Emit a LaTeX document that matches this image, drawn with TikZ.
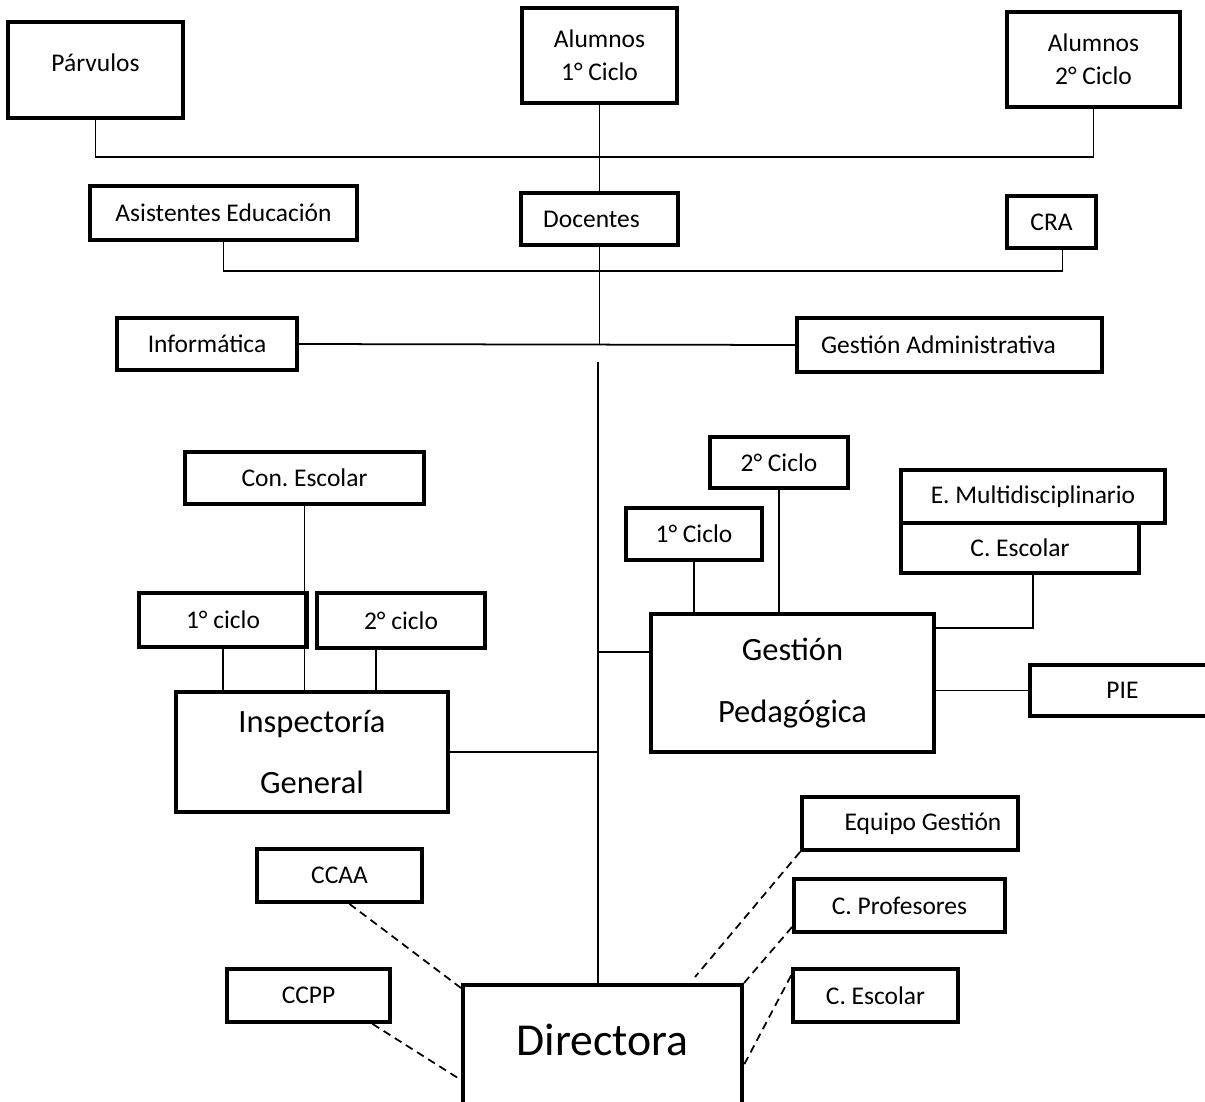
\documentclass[tikz,border=0pt]{standalone}
\usepackage{fontspec}
\setmainfont{Carlito}
\usetikzlibrary{calc}
\frenchspacing

\begin{document}
\begin{tikzpicture}[x=0.02cm, y=-0.02cm,
  caja/.style={draw, line width=2.2pt, inner sep=0pt, align=center, font=\fontsize{14.5}{19}\selectfont},
  grande/.style={caja, font=\fontsize{18.5}{35}\selectfont},
  enorme/.style={caja, font=\fontsize{26}{30}\selectfont},
  linea/.style={line width=1pt},
  guion/.style={line width=1pt, dash pattern=on 4.5pt off 3pt}]
\useasboundingbox (0,0) rectangle (1205,1102);

% fila de arriba
\node[caja, minimum width=3.5cm, minimum height=1.92cm] (parv) at (95.5,70) {\raisebox{0.28cm}{Párvulos}};
\node[caja, minimum width=3.1cm, minimum height=1.9cm] (alu1) at (599.5,55.5) {Alumnos\\1° Ciclo};
\node[caja, minimum width=3.46cm, minimum height=1.9cm] (alu2) at (1093.5,59.5) {Alumnos\\2° Ciclo};
\node[caja, minimum width=5.34cm, minimum height=1.08cm] (asis) at (223.5,213) {Asistentes Educación};
\node[caja, minimum width=3.14cm, minimum height=1.04cm] (doc) at (599.5,219) {\hspace*{-0.32cm}Docentes};
\node[caja, minimum width=1.78cm, minimum height=1.04cm] (cra) at (1051.5,222) {CRA};
\node[caja, minimum width=3.6cm, minimum height=1.04cm] (info) at (207,344) {Informática};
\node[caja, minimum width=6.1cm, minimum height=1.08cm] (gadm) at (949.5,345) {\hspace*{-0.44cm}Gestión Administrativa};

% inspectoria
\node[caja, minimum width=4.78cm, minimum height=1.04cm] (cesc) at (304.5,478) {Con. Escolar};
\node[caja, minimum width=3.36cm, minimum height=1.08cm] (ic1) at (223,620) {1° ciclo};
\node[caja, minimum width=3.36cm, minimum height=1.1cm] (ic2) at (401,620.5) {2° ciclo};
\node[grande, minimum width=5.44cm, minimum height=2.4cm] (insp) at (312,752) {Inspectoría\\General};

% gestion pedagogica
\node[caja, minimum width=2.76cm, minimum height=1.02cm] (gc2) at (779,462.5) {2° Ciclo};
\node[caja, minimum width=2.72cm, minimum height=1.04cm] (gc1) at (694,534) {1° Ciclo};
\node[caja, minimum width=5.28cm, minimum height=1.06cm] (emul) at (1033,496.5) {E. Multidisciplinario};
\node[caja, minimum width=4.76cm, minimum height=1.0cm, fill=white] (cesc2) at (1020,548) {C. Escolar};
\node[grande, minimum width=5.66cm, minimum height=2.76cm] (gped) at (792.5,683) {Gestión\\Pedagógica};
\node[caja, minimum width=3.7cm, minimum height=1.02cm] (pie) at (1122.5,690.5) {PIE};

% direccion
\node[caja, minimum width=3.3cm, minimum height=1.06cm] (ccaa) at (339.5,875.5) {CCAA};
\node[caja, minimum width=3.26cm, minimum height=1.06cm] (ccpp) at (308.5,995.5) {CCPP};
\node[caja, minimum width=4.32cm, minimum height=1.06cm] (equipo) at (910,823.5) {Equipo Gestión\hspace*{-0.52cm}};
\node[caja, minimum width=4.22cm, minimum height=1.06cm] (cprof) at (899.5,905.5) {C. Profesores};
\node[caja, minimum width=3.3cm, minimum height=1.06cm] (cesc3) at (875.5,995.5) {C. Escolar};
\node[enorme, minimum width=5.58cm, minimum height=2.8cm] (dir) at (602.5,1055) {\raisebox{0.6cm}{Directora}};

\coordinate (bus1) at (600,157);
\coordinate (bus2) at (600,271);
\coordinate (tr) at (598,362);
\coordinate (j1) at (598,652);
\coordinate (j2) at (1033,628);
\coordinate (e1) at (695,977);

\draw[linea] (parv.south) |- (bus1) -| (alu2.south);
\draw[linea] (alu1.south) -- (doc.north);
\draw[linea] (asis.south) |- (bus2) -| ([xshift=0.22cm]cra.south);
\draw[linea] (info.east) -- (gadm.west);
\draw[linea] (doc.south) -- (doc.south |- info.east);
\draw[linea] (tr) -- (tr |- dir.north);
\draw[linea] (j1) -- (j1 -| gped.west);
\draw[linea] (insp.east) -- (insp.east -| tr);

\draw[linea] (cesc.south) -- (cesc.south |- insp.north);
\draw[linea] (ic1.south) -- (ic1.south |- insp.north);
\draw[linea] ([xshift=-0.5cm]ic2.south) -- +(0,-0.88cm);

\draw[linea] (gc1.south) -- (gc1.south |- gped.north);
\draw[linea] (gc2.south) -- (gc2.south |- gped.north);
\draw[linea] (j2 |- cesc2.south) -- (j2) -- (j2 -| gped.east);
\draw[linea] (gped.east |- pie.west) -- (pie.west);

\draw[guion] ([xshift=0.2cm]ccaa.south) -- ([yshift=-0.1cm]dir.north west);
\draw[guion] ([xshift=1.28cm]ccpp.south) -- ([yshift=-0.5cm]dir.west);
\draw[guion] (equipo.south west) -- (e1);
\draw[guion] ([yshift=0.14cm]cprof.south west) -- (dir.north east);
\draw[guion] ([yshift=0.4cm]cesc3.west) -- ([yshift=-0.2cm]dir.east);
\end{tikzpicture}
\end{document}
